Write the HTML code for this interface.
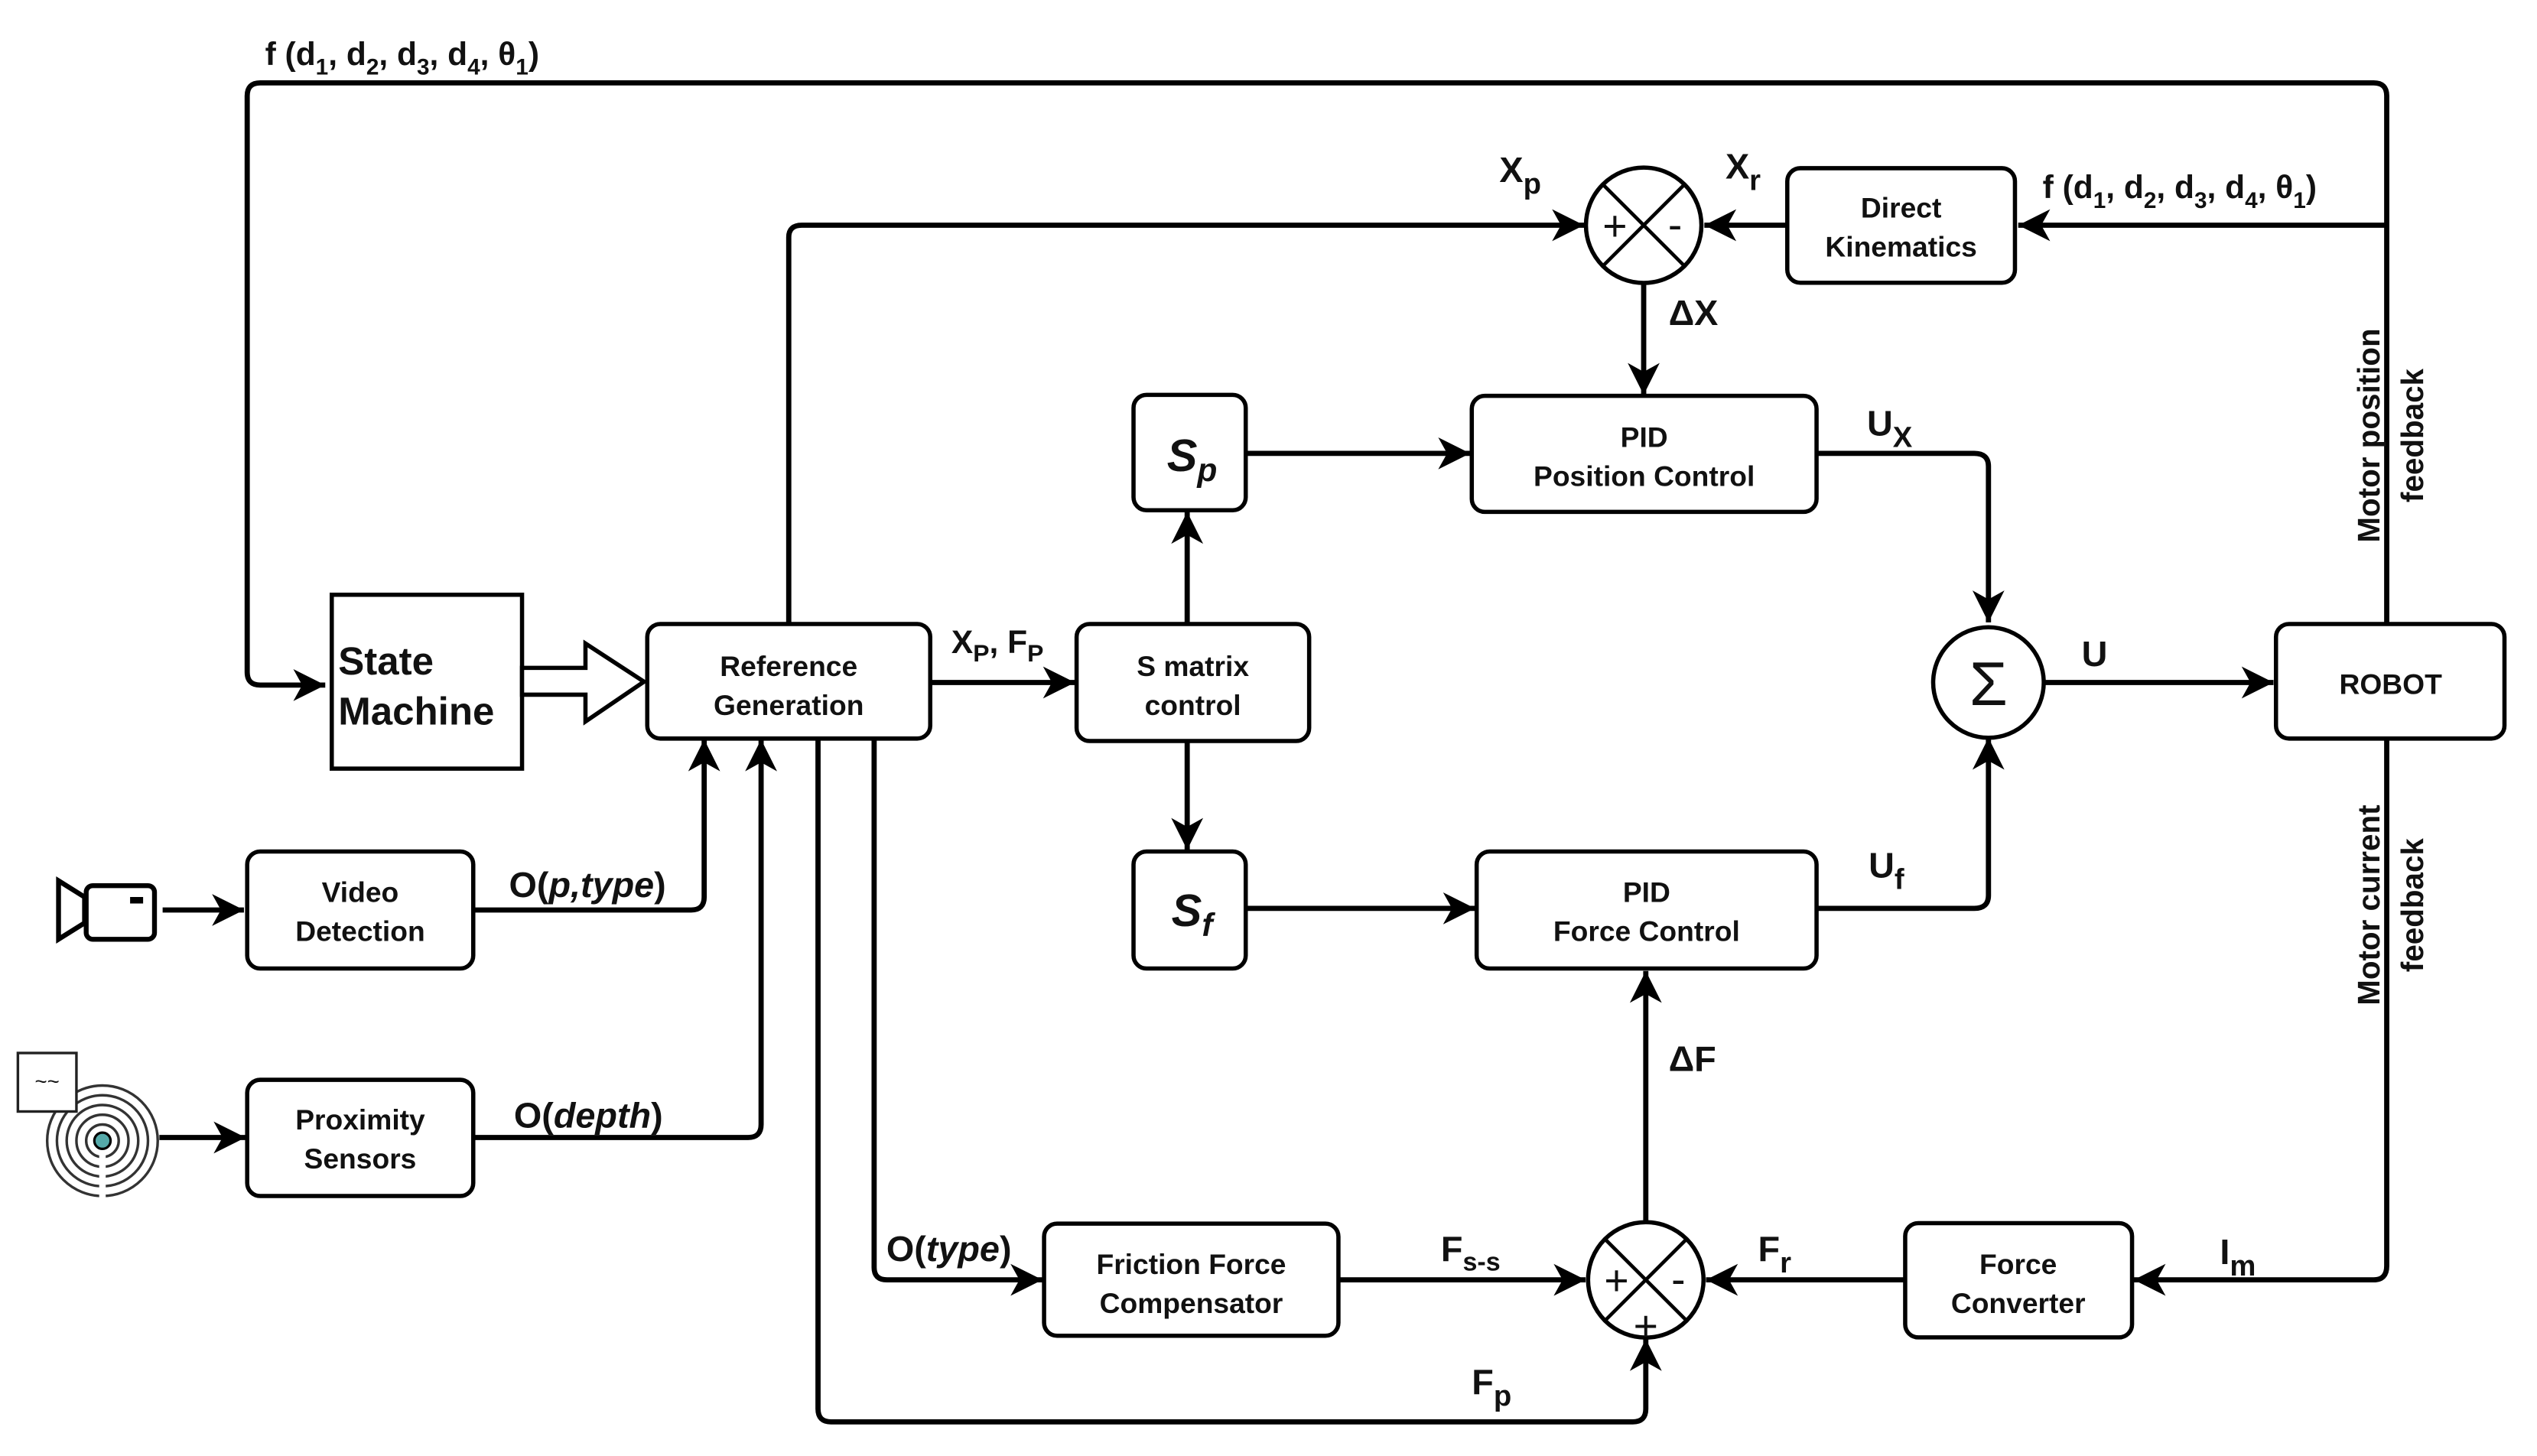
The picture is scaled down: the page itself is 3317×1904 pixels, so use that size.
<!DOCTYPE html>
<html><head><meta charset="utf-8"><style>
html,body{margin:0;padding:0;background:#fff;}
svg{display:block;}
text{font-family:"Liberation Sans",Arial,sans-serif;font-weight:bold;fill:#111;}
</style></head><body>
<svg width="3317" height="1904" viewBox="0 0 1560 896" preserveAspectRatio="none" xmlns="http://www.w3.org/2000/svg">
<defs>
<marker id="a" markerUnits="userSpaceOnUse" markerWidth="24" markerHeight="24" viewBox="-20 -10 22 20" refX="0" refY="0" orient="auto">
<path d="M0,0 L-18,-9 L-13,0 L-18,9 Z" fill="#000"/>
</marker>
</defs>
<g fill="none" stroke="#000" stroke-width="3.2" stroke-linejoin="round">
<path d="M1467.6,384 V59 Q1467.6,51 1459.6,51 H160 Q152,51 152,59 V413.6 Q152,421.6 160,421.6 H200" marker-end="url(#a)"/>
<path d="M1467.6,138.6 H1241" marker-end="url(#a)"/>
<path d="M1099,138.6 H1048" marker-end="url(#a)"/>
<path d="M485,384 V146 Q485,138.6 493,138.6 H974" marker-end="url(#a)"/>
<path d="M1010.7,174.6 V243" marker-end="url(#a)"/>
<path d="M730,384 V315" marker-end="url(#a)"/>
<path d="M730,457 V523" marker-end="url(#a)"/>
<path d="M766,279 H904" marker-end="url(#a)"/>
<path d="M766,559 H907" marker-end="url(#a)"/>
<path d="M1117,279 H1214 Q1222.7,279 1222.7,287 V383" marker-end="url(#a)"/>
<path d="M1117,559 H1214 Q1222.7,559 1222.7,551 V454" marker-end="url(#a)"/>
<path d="M1256.7,420 H1398" marker-end="url(#a)"/>
<path d="M1467.6,454.5 V779 Q1467.6,787.6 1459.6,787.6 H1312" marker-end="url(#a)"/>
<path d="M1171.5,787.6 H1049" marker-end="url(#a)"/>
<path d="M823,787.6 H975" marker-end="url(#a)"/>
<path d="M1012,751.6 V597.5" marker-end="url(#a)"/>
<path d="M503,454.5 V867 Q503,875 511,875 H1004 Q1012,875 1012,867 V824" marker-end="url(#a)"/>
<path d="M537.5,454.5 V780 Q537.5,787.6 545.5,787.6 H641" marker-end="url(#a)"/>
<path d="M291,560 H425 Q433,560 433,552 V455" marker-end="url(#a)"/>
<path d="M291,700 H460 Q468,700 468,692 V455" marker-end="url(#a)"/>
<path d="M572,420 H661" marker-end="url(#a)"/>
<path d="M100,560 H150" marker-end="url(#a)"/>
<path d="M98,700 H151" marker-end="url(#a)"/>
</g>
<g fill="#fff" stroke="#000" stroke-width="2.6">
<rect x="204" y="366" width="117" height="107"/>
<polygon points="321,411 360,411 360,396 396,419.5 360,444 360,427.5 321,427.5"/>
<rect x="398" y="384" width="174" height="70.5" rx="8"/>
<rect x="662" y="384" width="143" height="72" rx="8"/>
<rect x="697" y="243" width="69" height="71" rx="8"/>
<rect x="697" y="524" width="69" height="72" rx="8"/>
<rect x="905" y="243.6" width="212" height="71.4" rx="8"/>
<rect x="908" y="524" width="209" height="72" rx="8"/>
<rect x="1099" y="103.5" width="140" height="70.5" rx="8"/>
<rect x="1399.5" y="384" width="140.5" height="70.5" rx="8"/>
<rect x="152" y="524" width="139" height="72" rx="8"/>
<rect x="152" y="664.5" width="139" height="71.5" rx="8"/>
<rect x="642" y="753" width="181" height="69" rx="8"/>
<rect x="1171.5" y="752.7" width="139.5" height="70.3" rx="8"/>
<circle cx="1010.7" cy="138.6" r="35.5"/>
<circle cx="1012" cy="787.6" r="35.5"/>
<circle cx="1222.7" cy="420" r="34"/>
</g>
<g stroke="#000" stroke-width="2.2">
<line x1="985.6" y1="113.5" x2="1035.8" y2="163.7"/><line x1="1035.8" y1="113.5" x2="985.6" y2="163.7"/>
<line x1="986.9" y1="762.5" x2="1037.1" y2="812.7"/><line x1="1037.1" y1="762.5" x2="986.9" y2="812.7"/>
</g>
<g font-size="26" style="font-weight:normal" text-anchor="middle">
<text x="993" y="148" style="font-weight:normal">+</text><text x="1030" y="147" style="font-weight:normal">-</text>
<text x="994" y="797" style="font-weight:normal">+</text><text x="1032" y="796" style="font-weight:normal">-</text><text x="1012" y="825" style="font-weight:normal">+</text>
</g>
<text x="1222.7" y="434" font-size="38" style="font-weight:normal" text-anchor="middle">Σ</text>
<g fill="#fff" stroke="#000" stroke-width="3">
<polygon points="36,542 52,552 52,568 36,578"/>
<rect x="53" y="545" width="42" height="33" rx="4"/>
</g>
<rect x="80" y="552" width="8" height="4" fill="#000"/>
<g fill="none" stroke="#333" stroke-width="1.6">
<circle cx="63" cy="702" r="34"/><circle cx="63" cy="702" r="28"/><circle cx="63" cy="702" r="22"/><circle cx="63" cy="702" r="16"/><circle cx="63" cy="702" r="10"/>
</g>
<rect x="61" y="710" width="4" height="30" fill="#fff"/>
<circle cx="63" cy="702" r="5" fill="#5aa" stroke="#000" stroke-width="1.5"/>
<rect x="11" y="648" width="36" height="36" fill="#fff" stroke="#222" stroke-width="1.6"/>
<text x="29" y="670" font-size="13" style="font-weight:normal" text-anchor="middle">~~</text>
<g font-size="17.5" text-anchor="middle">
<text x="485" y="416">Reference</text><text x="485" y="440">Generation</text>
<text x="733.5" y="416">S matrix</text><text x="733.5" y="440">control</text>
<text x="1011" y="275">PID</text><text x="1011" y="299">Position Control</text>
<text x="1012.5" y="555">PID</text><text x="1012.5" y="579">Force Control</text>
<text x="1169" y="134">Direct</text><text x="1169" y="158">Kinematics</text>
<text x="1470" y="427">ROBOT</text>
<text x="221.5" y="555">Video</text><text x="221.5" y="579">Detection</text>
<text x="221.5" y="695">Proximity</text><text x="221.5" y="719">Sensors</text>
<text x="732.5" y="784">Friction Force</text><text x="732.5" y="808">Compensator</text>
<text x="1241" y="784">Force</text><text x="1241" y="808">Converter</text>
</g>
<text x="208" y="415" font-size="24">State</text>
<text x="208" y="446" font-size="24">Machine</text>
<g font-size="28" font-style="italic" text-anchor="middle">
<text x="733" y="290">S<tspan font-size="20" dy="6">p</tspan></text>
<text x="733" y="570">S<tspan font-size="20" dy="6">f</tspan></text>
</g>
<g font-size="20">
<text x="163" y="40">f (d<tspan font-size="14" dy="6">1</tspan><tspan dy="-6">, d</tspan><tspan font-size="14" dy="6">2</tspan><tspan dy="-6">, d</tspan><tspan font-size="14" dy="6">3</tspan><tspan dy="-6">, d</tspan><tspan font-size="14" dy="6">4</tspan><tspan dy="-6">, θ</tspan><tspan font-size="14" dy="6">1</tspan><tspan dy="-6">)</tspan></text>
<text x="1256" y="122">f (d<tspan font-size="14" dy="6">1</tspan><tspan dy="-6">, d</tspan><tspan font-size="14" dy="6">2</tspan><tspan dy="-6">, d</tspan><tspan font-size="14" dy="6">3</tspan><tspan dy="-6">, d</tspan><tspan font-size="14" dy="6">4</tspan><tspan dy="-6">, θ</tspan><tspan font-size="14" dy="6">1</tspan><tspan dy="-6">)</tspan></text>
<text x="922" y="112" font-size="22">X<tspan font-size="18" dy="7">p</tspan></text>
<text x="1061" y="110" font-size="22">X<tspan font-size="18" dy="7">r</tspan></text>
<text x="1026" y="200" font-size="22">ΔX</text>
<text x="1148" y="268" font-size="22">U<tspan font-size="18" dy="7">X</tspan></text>
<text x="1149" y="540" font-size="22">U<tspan font-size="18" dy="7">f</tspan></text>
<text x="1280" y="410" font-size="22">U</text>
<text x="1026" y="659" font-size="22">ΔF</text>
<text x="585" y="402">X<tspan font-size="15" dy="5">P</tspan><tspan dy="-5">, F</tspan><tspan font-size="15" dy="5">P</tspan></text>
<text x="313" y="552" font-size="22">O(<tspan font-style="italic">p,type</tspan>)</text>
<text x="316" y="694" font-size="22">O(<tspan font-style="italic">depth</tspan>)</text>
<text x="545" y="776" font-size="22">O(<tspan font-style="italic">type</tspan>)</text>
<text x="886" y="776" font-size="22">F<tspan font-size="16" dy="6">s-s</tspan></text>
<text x="1081" y="776" font-size="22">F<tspan font-size="18" dy="7">r</tspan></text>
<text x="1365" y="778" font-size="22">I<tspan font-size="18" dy="7">m</tspan></text>
<text x="905" y="858" font-size="22">F<tspan font-size="18" dy="7">p</tspan></text>
</g>
<g font-size="19" text-anchor="middle">
<text transform="translate(1463,268) rotate(-90)">Motor position</text>
<text transform="translate(1490,268) rotate(-90)">feedback</text>
<text transform="translate(1463,557) rotate(-90)">Motor current</text>
<text transform="translate(1490,557) rotate(-90)">feedback</text>
</g>
</svg>
</body></html>
